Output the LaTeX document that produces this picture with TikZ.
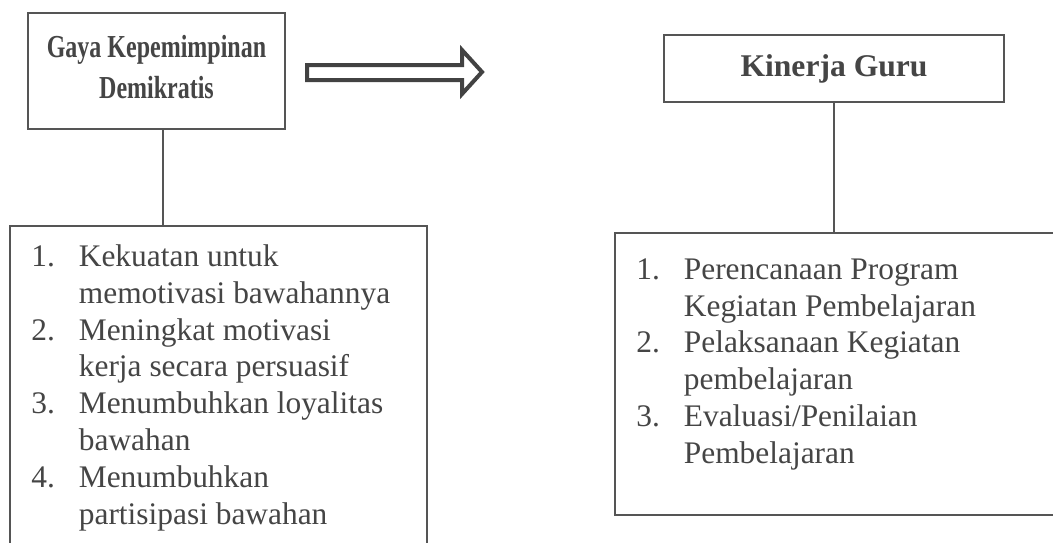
\documentclass[tikz,border=0pt]{standalone}
\usepackage{fontspec}
\setmainfont{Liberation Serif}
\newfontfamily\judulsempit[FakeStretch=0.75]{Liberation Serif}
\usetikzlibrary{positioning, calc}
\usepackage{xcolor}
\definecolor{garis}{HTML}{555555}
\definecolor{teks}{HTML}{454545}
\definecolor{panah}{HTML}{424242}
\newcommand{\nomor}[1]{\makebox[23.75pt][l]{#1}}
\tikzset{
    kotak/.style={rectangle, draw=garis, line width=0.75pt, text=teks, align=center},
    isi/.style={inner sep=0pt, text=teks, align=left, font=\fontsize{15.7}{18.45}\selectfont},
    hubung/.style={draw=garis, line width=0.75pt}
}

\begin{document}
\begin{tikzpicture}[x=0.5pt, y=-0.5pt]
    \useasboundingbox (0,0) rectangle (1053,542);
    \fill [white] (0,0) rectangle (1053,542);
    \clip (0,0) rectangle (1053,542);

    \node (gaya) [kotak, minimum width=128.5pt, minimum height=58pt, font=\fontsize{16}{20.5}\selectfont\judulsempit\bfseries] at (156.5,71) {Gaya Kepemimpinan\\Demikratis\\[-16pt]\mbox{}};
    \node (kinerja) [kotak, minimum width=170pt, minimum height=33.5pt, font=\fontsize{15.8}{18}\selectfont\bfseries] at (834,68.5) {Kinerja Guru};

    % kotak indikator (bagian bawah / kanan terpotong)
    \node (kiri) [kotak, anchor=north west, minimum width=208.5pt, minimum height=170pt] at (9,225) {};
    \node (kanan) [kotak, anchor=north west, minimum width=230pt, minimum height=141pt] at (614,232) {};

    \node (isikiri) [isi, anchor=north west] at (31,244) {%
        \nomor{1.}Kekuatan untuk\\
        \nomor{}memotivasi bawahannya\\
        \nomor{2.}Meningkat motivasi\\
        \nomor{}kerja secara persuasif\\
        \nomor{3.}Menumbuhkan loyalitas\\
        \nomor{}bawahan\\
        \nomor{4.}Menumbuhkan\\
        \nomor{}partisipasi bawahan};
    \node (isikanan) [isi, anchor=north west] at (636,258) {%
        \nomor{1.}Perencanaan Program\\
        \nomor{}Kegiatan Pembelajaran\\
        \nomor{2.}Pelaksanaan Kegiatan\\
        \nomor{}pembelajaran\\
        \nomor{3.}Evaluasi/Penilaian\\
        \nomor{}Pembelajaran};

    % panah blok
    \draw [draw=panah, line width=2pt, fill=white, line join=miter]
        (307,65) -- (462,65) -- (462,50) -- (482,72) -- (462,94) -- (462,80) -- (307,80) -- cycle;

    \coordinate (turun) at ($(gaya.south)+(6.5,0)$);
    \draw [hubung] (turun) -- (turun |- kiri.north);
    \draw [hubung] (kinerja.south) -- (kinerja.south |- kanan.north);

\end{tikzpicture}
\end{document}
